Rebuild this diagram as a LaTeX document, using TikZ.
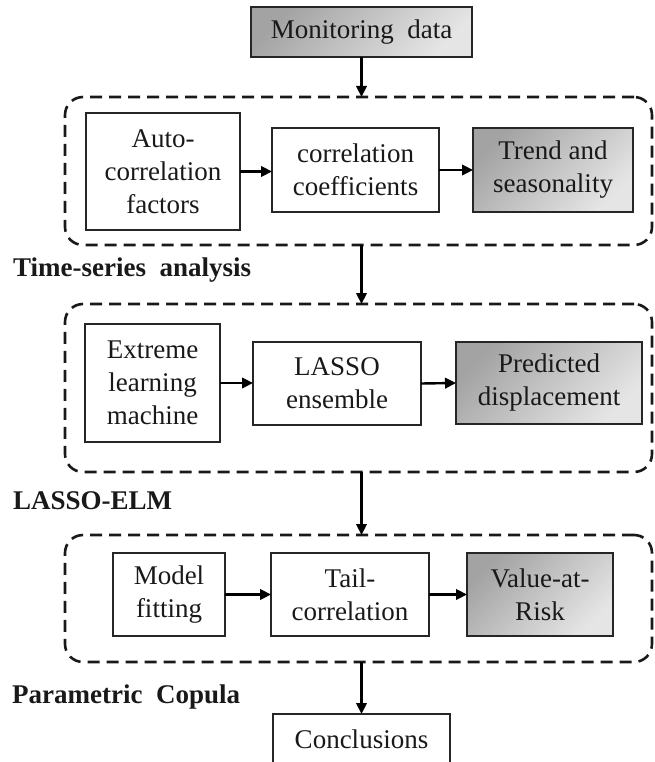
\documentclass[tikz,border=0pt]{standalone}
\usepackage{fontspec}
\setmainfont{Liberation Serif}
\usetikzlibrary{arrows.meta,shadings}

\begin{document}
\begin{tikzpicture}[x=1pt,y=-1pt,
  box/.style={rectangle, draw=black!85, line width=1.7pt, inner sep=0pt,
    outer sep=0pt, align=center, text=black!90,
    font=\fontsize{27}{33}\selectfont},
  shadedbox/.style={box, top color=black!36, bottom color=black!10,
    shading angle=45},
  group/.style={rectangle, draw=black!90, line width=2.6pt,
    dash pattern=on 12pt off 7pt, rounded corners=18pt, inner sep=0pt,
    outer sep=0pt, minimum width=587pt},
  lbl/.style={anchor=base west, inner sep=0pt, text=black!90,
    font=\fontsize{27}{32}\selectfont\bfseries},
  arr/.style={draw=black, line width=2.4pt,
    -{Triangle[length=11pt,width=10.5pt]}}]

\useasboundingbox (0,0) rectangle (654,762);

% dashed stage frames
\node[group, minimum height=148pt] (g1) at (358.5,171) {};
\node[group, minimum height=168pt] (g2) at (358.5,388) {};
\node[group, minimum height=127pt] (g3) at (358.5,598.5) {};

% input and output
\node[shadedbox, minimum width=221pt, minimum height=50pt] (mon) at (361.5,32) {Monitoring\ \ data};
\node[box, minimum width=177pt, minimum height=50pt] (concl) at (361.5,739) {Conclusions};

% stage 1: time-series analysis
\node[box, minimum width=154pt, minimum height=117pt] (auto) at (163,171.5) {Auto-\\correlation\\factors};
\node[box, minimum width=167pt, minimum height=84pt] (corr) at (355.5,170) {correlation\\coefficients};
\node[shadedbox, minimum width=160pt, minimum height=84pt] (trend) at (553,170) {Trend and\\seasonality};

% stage 2: LASSO-ELM
\node[box, minimum width=135pt, minimum height=118pt] (elm) at (152.5,383) {Extreme\\learning\\machine};
\node[box, minimum width=168pt, minimum height=83pt] (lasso) at (337,383.5) {LASSO\\ensemble};
\node[shadedbox, minimum width=186pt, minimum height=82pt] (pred) at (549,383) {Predicted\\displacement};

% stage 3: parametric copula
\node[box, minimum width=112pt, minimum height=83pt] (model) at (169,594.5) {Model\\fitting};
\node[box, minimum width=158pt, minimum height=83pt] (tail) at (350,594.5) {Tail-\\correlation};
\node[shadedbox, minimum width=146pt, minimum height=83pt] (var) at (540,594.5) {Value-at-\\Risk};

% stage labels
\node[lbl] (l1) at (13,276) {Time-series\ \ analysis};
\node[lbl] (l2) at (13,509) {LASSO-ELM};
\node[lbl] (l3) at (12,703) {Parametric\ \ Copula};

% flow between stages
\draw[arr] (mon.south) -- (mon.south |- g1.north);
\draw[arr] (g1.south -| mon.south) -- (g2.north -| mon.south);
\draw[arr] (g2.south -| mon.south) -- (g3.north -| mon.south);
\draw[arr] (g3.south -| concl.north) -- (concl.north);

% flow inside stages
\draw[arr] (auto.east) -- (auto.east -| corr.west);
\draw[arr] (corr.east) -- (trend.west);
\draw[arr] (elm.east) -- (elm.east -| lasso.west);
\draw[arr] (lasso.east) -- (pred.west);
\draw[arr] (model.east) -- (tail.west);
\draw[arr] (tail.east) -- (var.west);
\end{tikzpicture}
\end{document}
